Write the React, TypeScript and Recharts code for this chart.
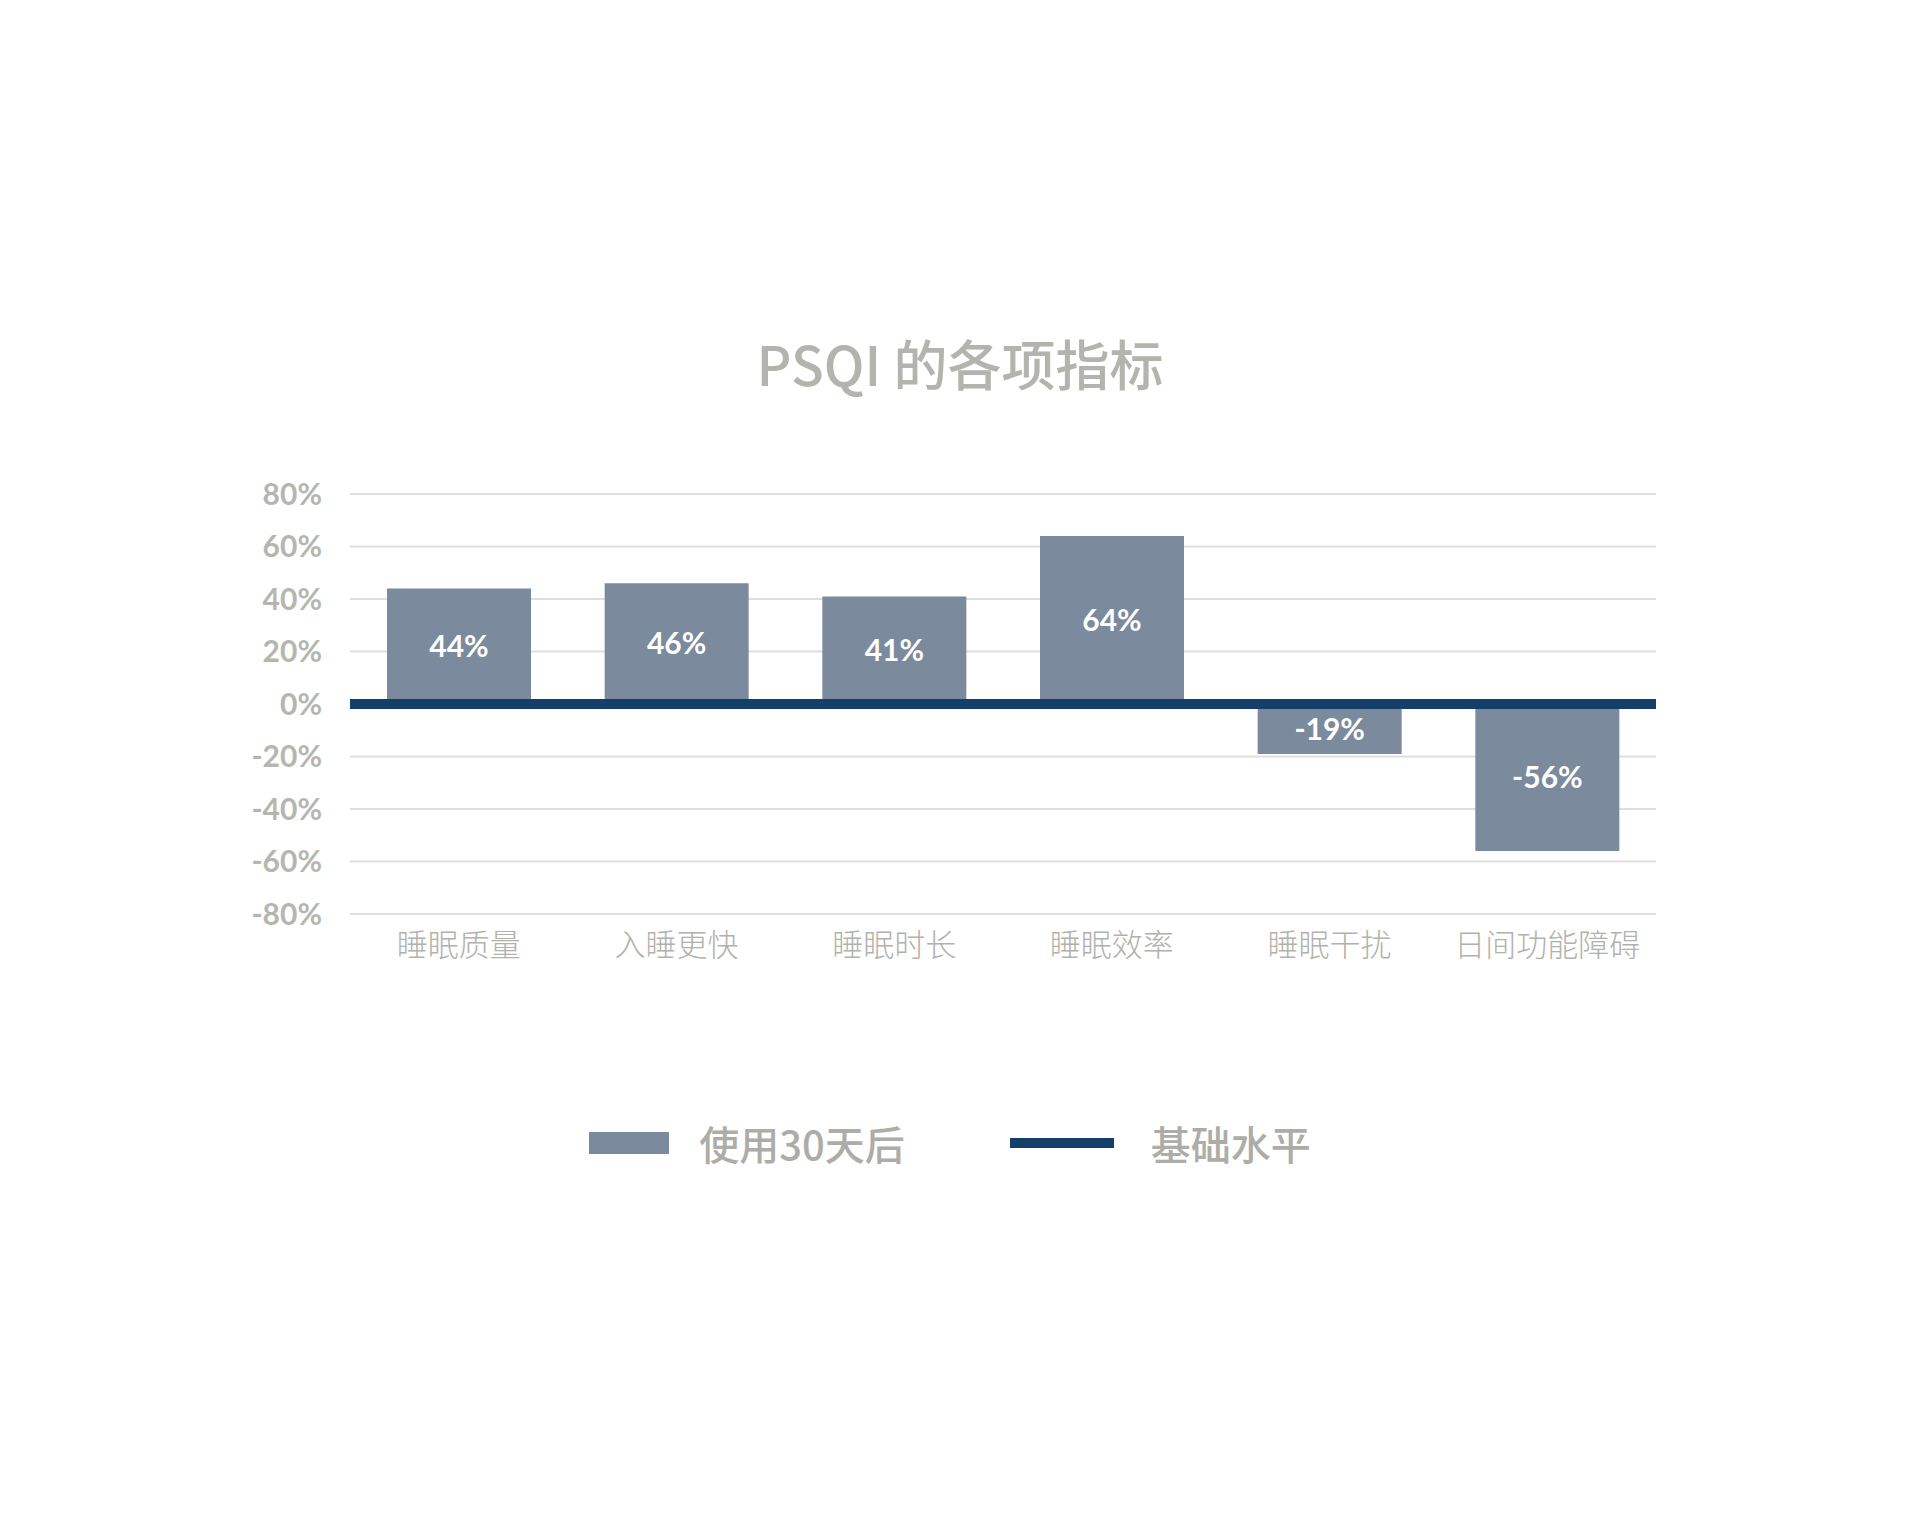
import {
  Bar,
  BarChart,
  CartesianGrid,
  LabelList,
  Legend,
  ReferenceLine,
  XAxis,
  YAxis,
} from "recharts";

const categories = ["睡眠质量", "入睡更快", "睡眠时长", "睡眠效率", "睡眠干扰", "日间功能障碍"];
const after30Days = [44, 46, 41, 64, -19, -56];
const baselineLevel = 0;
const yTicks = [-80, -60, -40, -20, 0, 20, 40, 60, 80];
const seriesNames = ["使用30天后", "基础水平"];
const chartTitle = "PSQI 的各项指标";

const data = categories.map((name, i) => ({ name, after: after30Days[i] }));

const BAR_COLOR = "#7b8a9c";
const BASE_COLOR = "#133f6a";
const GREY_TEXT = "#b6b6b1";
const NUM_FONT = "Lato, 'Open Sans', sans-serif";
const CJK_FONT = "'Noto Sans CJK SC', 'Noto Sans', sans-serif";

function ChartLegend() {
  return (
    <div
      style={{
        display: "flex",
        alignItems: "center",
        justifyContent: "center",
        height: 56,
        paddingRight: 20,
        fontFamily: CJK_FONT,
        fontSize: 40,
        fontWeight: 500,
        color: "#adada8",
      }}
    >
      <span style={{ width: 80, height: 22, background: BAR_COLOR, marginRight: 30 }} />
      <span style={{ marginRight: 105 }}>{seriesNames[0]}</span>
      <span style={{ width: 104, height: 10, background: BASE_COLOR, marginRight: 37 }} />
      <span>{seriesNames[1]}</span>
    </div>
  );
}

export default function App() {
  return (
    <div
      style={{
        position: "absolute",
        top: 0,
        left: 0,
        width: 1920,
        height: 1514,
        background: "#fff",
      }}
    >
      <div
        style={{
          position: "absolute",
          top: 336,
          left: 0,
          width: 1920,
          textAlign: "center",
          fontFamily: CJK_FONT,
          fontSize: 54,
          fontWeight: 500,
          lineHeight: 1,
          color: "#b4b4af",
        }}
      >
        {chartTitle}
      </div>
      <BarChart
        width={1920}
        height={1514}
        data={data}
        margin={{ top: 494, right: 264, bottom: 540, left: 270 }}
        barCategoryGap="17%"
      >
        <CartesianGrid vertical={false} stroke="#dedede" strokeWidth={2} />
        <XAxis
          dataKey="name"
          axisLine={false}
          tickLine={false}
          height={60}
          tickMargin={14}
          interval={0}
          tick={{ fill: "#b2b2ad", fontSize: 31, fontWeight: 300, fontFamily: CJK_FONT }}
        />
        <YAxis
          domain={[-80, 80]}
          ticks={yTicks}
          axisLine={false}
          tickLine={false}
          width={80}
          tickMargin={22}
          tickFormatter={(v) => `${v}%`}
          tick={{ fill: GREY_TEXT, fontSize: 30, fontWeight: 700, fontFamily: NUM_FONT }}
        />
        <Bar dataKey="after" name={seriesNames[0]} fill={BAR_COLOR} isAnimationActive={false}>
          <LabelList
            dataKey="after"
            position="center"
            formatter={(v: number) => `${v}%`}
            fill="#ffffff"
            fontSize={30}
            fontWeight={700}
            fontFamily={NUM_FONT}
          />
        </Bar>
        <ReferenceLine y={baselineLevel} stroke={BASE_COLOR} strokeWidth={10} />
        <Legend
          verticalAlign="middle"
          align="center"
          wrapperStyle={{ top: 1115, left: 0, width: 1920 }}
          content={() => <ChartLegend />}
        />
      </BarChart>
    </div>
  );
}
